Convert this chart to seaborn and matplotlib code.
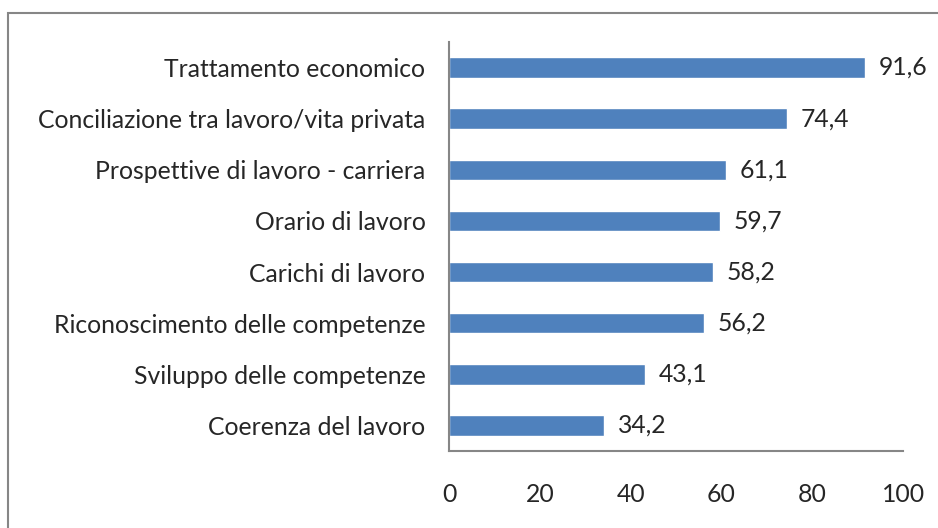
import matplotlib
matplotlib.use("Agg")
import matplotlib.pyplot as plt
import seaborn as sns
import pandas as pd
from matplotlib.patches import Rectangle

categories = [
    "Trattamento economico",
    "Conciliazione tra lavoro/vita privata",
    "Prospettive di lavoro - carriera",
    "Orario di lavoro",
    "Carichi di lavoro",
    "Riconoscimento delle competenze",
    "Sviluppo delle competenze",
    "Coerenza del lavoro",
]
values = [91.6, 74.4, 61.1, 59.7, 58.2, 56.2, 43.1, 34.2]
x_ticks = [0, 20, 40, 60, 80, 100]

df = pd.DataFrame({"categoria": categories, "valore": values})

sns.set_style("white")
plt.rcParams["font.family"] = ["Lato", "DejaVu Sans"]
fs = 17.8
grey = "#868686"

fig = plt.figure(figsize=(9.38, 5.28), dpi=100)
ax = fig.add_axes([0.4787, 0.1458, 0.484, 0.7747])

sns.barplot(data=df, x="valore", y="categoria", orient="h", color="#4F81BD",
            width=0.4, saturation=1, ax=ax)

for i, v in enumerate(values):
    ax.text(v + 3, i, f"{v:.1f}".replace(".", ","), va="center", ha="left", fontsize=fs)

ax.set_xlim(0, 100)
ax.set_ylim(len(categories) - 0.5, -0.5)
ax.set_xticks(x_ticks)
ax.set_xticklabels([str(t) for t in x_ticks], fontsize=fs)
ax.set_yticks(range(len(categories)))
ax.set_yticklabels(categories, fontsize=fs)
ax.set_yticks([i - 0.5 for i in range(len(categories) + 1)], minor=True)
ax.tick_params(axis="y", which="major", length=0, pad=17)
ax.tick_params(axis="y", which="minor", length=6, width=1.3, color=grey, direction="out")
ax.tick_params(axis="x", length=6, width=1.3, color=grey, direction="out", pad=17)
ax.set_xlabel("")
ax.set_ylabel("")

for side in ["top", "right"]:
    ax.spines[side].set_visible(False)
for side in ["left", "bottom"]:
    ax.spines[side].set_color(grey)
    ax.spines[side].set_linewidth(1.5)

fig.patches.append(Rectangle((8 / 938, -0.1), 1.2, 1.1 - 13 / 528, transform=fig.transFigure,
                             fill=False, edgecolor=grey, linewidth=1.5))

fig.savefig("out.png", dpi=100)
